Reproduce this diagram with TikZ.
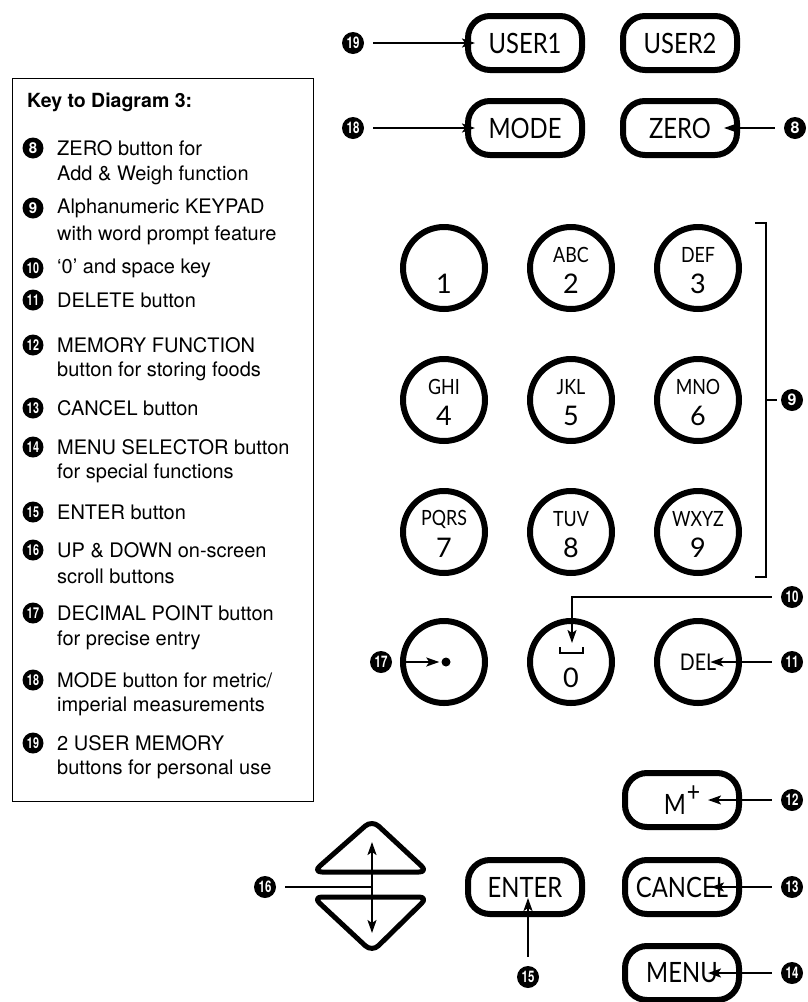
\documentclass[tikz,border=0pt]{standalone}
\usepackage{fontspec}
\setmainfont{TeX Gyre Heros}
\newfontfamily\btnfont{Lato}
\usetikzlibrary{arrows.meta,calc}
\begin{document}
\begin{tikzpicture}[x=1pt,y=-1pt,
 btn/.style={draw, line width=6, rounded corners=22, minimum width=114, minimum height=54, inner sep=0, font=\btnfont\fontsize{28}{28}\selectfont},
 keyb/.style={draw, circle, line width=6, minimum size=82, inner sep=0},
 lett/.style={inner sep=0, font=\btnfont\fontsize{21}{21}\selectfont},
 digt/.style={inner sep=0, font=\btnfont\fontsize{27}{27}\selectfont},
 num/.style={circle, fill=black, text=white, minimum size=22, inner sep=0, font=\bfseries\fontsize{16}{16}\selectfont},
 ptr/.style={line width=2, shorten <=9, -{Stealth[length=13,width=9,inset=3]}},
 ln/.style={line width=2},
 keytxt/.style={anchor=west, inner sep=0, font=\fontsize{20}{20}\selectfont},
]
\useasboundingbox (0,0) rectangle (807,1002);
\newcommand{\nn}[1]{\scalebox{0.72}[1]{#1}}
% ---------- key box ----------
\node[draw, line width=1.2, minimum width=301, minimum height=723, anchor=north west, inner sep=0] (keybox) at (12,78) {};
\node[keytxt, font=\bfseries\fontsize{19.5}{19.5}\selectfont] (ktitle) at (27,102) {Key to Diagram 3:};
\newcommand{\keyline}[4]{%
 \node[num, minimum size=21, font=\bfseries\fontsize{15}{15}\selectfont] (kn#1) at (33,#2) {#3};
 \node[keytxt] (kt#1) at (57,#2) {#4};}
\keyline{8}{148}{8}{ZERO button for}
\node[keytxt] (kt8b) at (57,175) {Add \& Weigh function};
\keyline{9}{208}{9}{Alphanumeric KEYPAD}
\node[keytxt] (kt9b) at (57,235) {with word prompt feature};
\keyline{10}{268}{\nn{10}}{‘0’ and space key}
\keyline{11}{300}{\nn{11}}{DELETE button}
\keyline{12}{345}{\nn{12}}{MEMORY FUNCTION}
\node[keytxt] (kt12b) at (57,371) {button for storing foods};
\keyline{13}{408}{\nn{13}}{CANCEL button}
\keyline{14}{447}{\nn{14}}{MENU SELECTOR button}
\node[keytxt] (kt14b) at (57,473) {for special functions};
\keyline{15}{512}{\nn{15}}{ENTER button}
\keyline{16}{550}{\nn{16}}{UP \& DOWN on-screen}
\node[keytxt] (kt16b) at (57,576) {scroll buttons};
\keyline{17}{613}{\nn{17}}{DECIMAL POINT button}
\node[keytxt] (kt17b) at (57,640) {for precise entry};
\keyline{18}{680}{\nn{18}}{MODE button for metric/}
\node[keytxt] (kt18b) at (57,706) {imperial measurements};
\keyline{19}{743}{\nn{19}}{2 USER MEMORY}
\node[keytxt] (kt19b) at (57,769) {buttons for personal use};
% ---------- top buttons ----------
\node[btn] (u1) at (525,43) {\scalebox{0.85}[1]{USER1}};
\node[btn] (u2) at (680,43) {\scalebox{0.85}[1]{USER2}};
\node[btn] (mode) at (525,128) {\scalebox{0.85}[1]{MODE}};
\node[btn] (zero) at (680,128) {\scalebox{0.85}[1]{ZERO}};
\node[num] (n19) at (353,43) {\nn{19}};
\node[num] (n18) at (353,128) {\nn{18}};
\node[num] (n8) at (795,128) {8};
\draw[ptr] (n19) -- ($(u1.west)+(10,0)$);
\draw[ptr] (n18) -- ($(mode.west)+(10,0)$);
\draw[ptr] (n8) -- ($(zero.east)+(-16,0)$);
% ---------- keypad ----------
\newcommand{\kp}[5]{%
 \node[keyb] (k#1) at (#2,#3) {};
 \node[lett] (kl#1) at ($(k#1)+(0,-13)$) {\scalebox{0.85}[1]{#4}};
 \node[digt] (kd#1) at ($(k#1)+(0,16)$) {#5};}
\node[keyb] (k1) at (444,268) {};
\node[digt] (kd1) at ($(k1)+(0,16)$) {1};
\kp{2}{571}{268}{ABC}{2}
\kp{3}{698}{268}{DEF}{3}
\kp{4}{444}{400}{GHI}{4}
\kp{5}{571}{400}{JKL}{5}
\kp{6}{698}{400}{MNO}{6}
\kp{7}{444}{532}{PQRS}{7}
\kp{8}{571}{532}{TUV}{8}
\kp{9}{698}{532}{WXYZ}{9}
% bracket
\draw[ln] (755,223) -- (766,223) -- (766,577) -- (755,577);
\coordinate (brm) at (766,400);
\node[num] (n9) at (792,400) {9};
\draw[ln] (brm) -- ++(11,0);
% row 4
\node[keyb] (kdot) at (444,662) {};
\node[circle, fill=black, minimum size=9, inner sep=0] (dot) at (446,662) {};
\node[num] (n17) at (381,662) {\nn{17}};
\draw[ptr] (n17) -- ($(dot.west)+(-2,0)$);
\node[keyb] (k0) at (571,662) {};
\node[digt] (kd0) at ($(k0)+(0,16)$) {0};
\coordinate (sp) at (572,653);
\draw[line width=2] (560,647) -- (560,653) -- (583,653) -- (583,647);
\node[num] (n10) at (792,597) {\nn{10}};
\draw[line width=2, shorten <=9, -{Stealth[length=13,width=9,inset=3]}] (n10) -- (572,597) -- ($(sp)+(0,-10)$);
\node[keyb] (kdel) at (698,662) {};
\node[lett, font=\btnfont\fontsize{23}{23}\selectfont] (deltxt) at (698,662) {\scalebox{0.85}[1]{DEL}};
\node[num] (n11) at (792,662) {\nn{11}};
\draw[ptr] (n11) -- ($(deltxt.east)+(-6,0)$);
% ---------- bottom buttons ----------
\node[btn] (mplus) at (682,800) {\scalebox{0.85}[1]{M\kern1pt\raisebox{13pt}{\fontsize{27}{27}\selectfont +}}};
\node[btn] (cancel) at (682,887) {\scalebox{0.85}[1]{CANCEL}};
\node[btn] (menu) at (682,973) {\scalebox{0.85}[1]{MENU}};
\node[btn] (enter) at (525,887) {\scalebox{0.85}[1]{ENTER}};
\node[num] (n12) at (792,800) {\nn{12}};
\node[num] (n13) at (792,887) {\nn{13}};
\node[num] (n14) at (792,973) {\nn{14}};
\node[num] (n15) at (528,977) {\nn{15}};
\draw[ptr] (n12) -- ($(mplus.east)+(-34,0)$);
\draw[ptr] (n13) -- ($(cancel.east)+(-31,0)$);
\draw[ptr] (n14) -- ($(menu.east)+(-34,0)$);
\draw[ptr] (n15) -- ($(n15 |- enter.center)+(0,11)$);
% scroll buttons
\draw[line width=5, line join=round, rounded corners=9] (372,820) -- (428,872) -- (313,872) -- cycle;
\draw[line width=5, line join=round, rounded corners=9] (313,897) -- (428,897) -- (372,952) -- cycle;
\coordinate (upt) at (372,842);
\coordinate (dnt) at (372,933);
\draw[line width=2, {Stealth[length=13,width=9,inset=3]}-{Stealth[length=13,width=9,inset=3]}] (upt) -- (dnt);
\node[num] (n16) at (265,887) {\nn{16}};
\draw[ln, shorten <=9] (n16) -- (372,887);
\end{tikzpicture}
\end{document}
